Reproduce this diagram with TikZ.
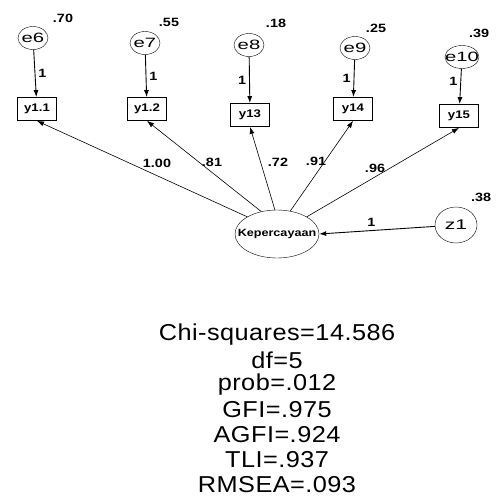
\documentclass[tikz,border=0pt]{standalone}
\usepackage{fontspec}
\setmainfont{Liberation Sans}
\newfontfamily\widefont[FakeStretch=1.2]{Liberation Sans}
\newfontfamily\xwidefont[FakeStretch=1.5]{Liberation Sans}
\newfontfamily\statfont[FakeStretch=1.1,LetterSpace=2]{Liberation Sans}
\usetikzlibrary{arrows.meta,shapes.geometric}
\begin{document}
\begin{tikzpicture}[x=1pt,y=-1pt,
  err/.style={draw,ellipse,minimum width=30pt,minimum height=23pt,inner sep=0pt,
    label={[font=\xwidefont\fontsize{13.5}{13.5}\selectfont,inner sep=0pt]center:#1}},
  obs/.style={draw,thick,minimum width=39pt,minimum height=23pt,inner sep=0pt,font=\widefont\bfseries\fontsize{11}{11}\selectfont},
  lat/.style={draw,ellipse,minimum width=84pt,minimum height=48pt,inner sep=0pt,
    label={[font=\widefont\bfseries\fontsize{10.5}{10.5}\selectfont,inner sep=0pt]center:#1}},
  arr/.style={-{Latex[length=7pt,width=5pt]},line width=0.9pt},
  ld/.style={-{Latex[length=7pt,width=5pt]},line width=0.6pt},
  lbl/.style={font=\widefont\bfseries\fontsize{12}{12}\selectfont,inner sep=0pt},
  stat/.style={font=\statfont\fontsize{23}{23}\selectfont,inner sep=0pt}]
\useasboundingbox (0,0) rectangle (502,497);
% error terms
\node[err=e6] (e6) at (33,38) {};
\node[err=e7] (e7) at (145,43) {};
\node[err=e8] (e8) at (249,45) {};
\node[err=e10,minimum width=34pt] (e10) at (462,57) {};
\node[err=e9] (e9) at (355,48) {};
\node[lbl] at (63,18) {.70};
\node[lbl] at (169,22) {.55};
\node[lbl] at (276,23) {.18};
\node[lbl] at (376,28) {.25};
\node[lbl] at (479,33) {.39};
% observed
\node[obs] (y11) at (37,109) {y1.1};
\node[obs] (y12) at (147,109) {y1.2};
\node[obs] (y13) at (250,115) {y13};
\node[obs] (y14) at (353,109) {y14};
\node[obs] (y15) at (459,116) {y15};
\draw[arr] (e6) -- (y11) node[lbl,midway,right=3pt] {1};
\draw[arr] (e7) -- (y12) node[lbl,midway,right=3pt] {1};
\draw[arr] (e8) -- (y13) node[lbl,midway,left=3pt] {1};
\draw[arr] (e9) -- (y14) node[lbl,midway,left=3pt] {1};
\draw[arr] (e10) -- (y15) node[lbl,pos=0.35,left=3pt] {1};
% latent
\node[lat=Kepercayaan] (K) at (277,234) {};
\node[draw,ellipse,minimum width=42pt,minimum height=36pt,inner sep=0pt,
  label={[font=\xwidefont\fontsize{14}{14}\selectfont,inner sep=0pt]center:z1}] (z1) at (456,225) {};
\node[lbl] at (481,197) {.38};
\draw[ld] (K.150) -- (y11.south);
\draw[ld] (K.125) -- (y12.south);
\draw[ld] (K.95) -- (y13.south);
\draw[ld] (K.60) -- (y14.south);
\draw[ld] (K.30) -- (y15.south);
\node[lbl] at (157,163) {1.00};
\node[lbl] at (212,162) {.81};
\node[lbl] at (278,162) {.72};
\node[lbl] at (316,161) {.91};
\node[lbl] at (375,168) {.96};
\draw[arr] (z1) -- (K.east) node[lbl,pos=0.55,above=4pt] {1};
% fit statistics
\node[stat] (s1) at (277,335) {Chi-squares=14.586};
\node[stat] (s2) at (277,360) {df=5};
\node[stat] (s3) at (277,385) {prob=.012};
\node[stat] (s4) at (277,410) {GFI=.975};
\node[stat] (s5) at (277,435) {AGFI=.924};
\node[stat] (s6) at (277,460) {TLI=.937};
\node[stat] (s7) at (277,485) {RMSEA=.093};
\end{tikzpicture}
\end{document}
